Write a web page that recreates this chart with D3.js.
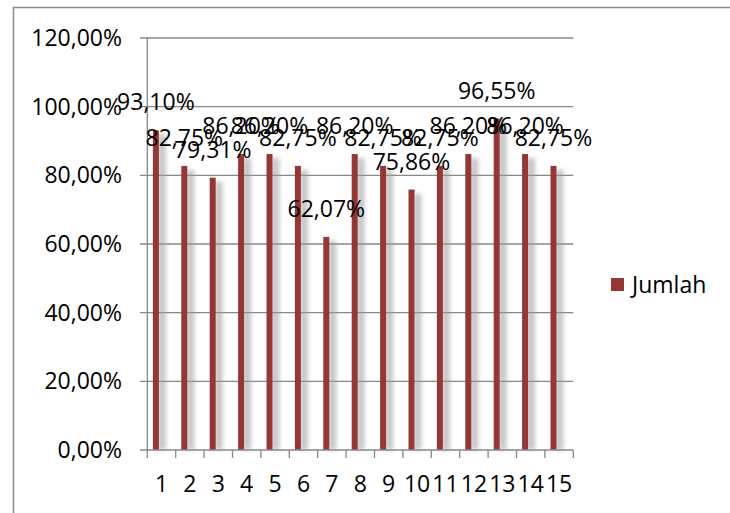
<!DOCTYPE html>
<html><head><meta charset="utf-8">
<script src="https://cdn.jsdelivr.net/npm/d3@7"></script>
<style>
html,body{margin:0;padding:0;background:#fff;}
svg{display:block;font-family:"Open Sans",sans-serif;}
</style></head>
<body><svg id="c" width="730" height="513"></svg>
<script>
const categories = ["1","2","3","4","5","6","7","8","9","10","11","12","13","14","15"];
const values = [93.10, 82.75, 79.31, 86.20, 86.20, 82.75, 62.07, 86.20, 82.75, 75.86, 82.75, 86.20, 96.55, 86.20, 82.75];
const yTicks = [0, 20, 40, 60, 80, 100, 120];
const seriesName = "Jumlah";

const svg = d3.select("#c");
const fmt = v => v.toFixed(2).replace(".", ",") + "%";
const x = d3.scaleBand().domain(categories).range([147.3, 573.3]).padding(0);
const y = d3.scaleLinear().domain([0, 120]).range([450, 38]);
const barColor = "#953735";
const gridColor = "#888888";

// outer border
svg.append("path").attr("d", "M13.5,513 V7.5 H730").attr("fill","none").attr("stroke","#8c8c8c").attr("stroke-width",1.5);

const defs = svg.append("defs");
const f = defs.append("filter").attr("id","sh").attr("x","-100%").attr("y","-10%").attr("width","300%").attr("height","120%");
f.append("feGaussianBlur").attr("stdDeviation", 2.2);

// gridlines
svg.append("g").selectAll("line").data(yTicks.filter(d => d > 0)).join("line")
  .attr("x1", 140).attr("x2", 573.3).attr("y1", d => y(d)).attr("y2", d => y(d))
  .attr("stroke", gridColor).attr("stroke-width", 1.3);

// y labels
svg.append("g").selectAll("text").data(yTicks).join("text")
  .attr("x", 122).attr("y", d => y(d) + 8).attr("text-anchor","end")
  .attr("font-size", 23).attr("fill","#000").text(d => fmt(d));

const bw = 6;
const barX = d => x(d) + 5.6;

// shadows
svg.append("g").selectAll("rect").data(categories).join("rect")
  .attr("x", (d) => barX(d) + 5).attr("width", 8)
  .attr("y", (d,i) => y(values[i]) + 4).attr("height", (d,i) => y(0) - y(values[i]) - 4)
  .attr("fill", "#9a9a9a").attr("opacity", 0.55).attr("filter","url(#sh)");

// bars
svg.append("g").selectAll("rect").data(categories).join("rect")
  .attr("x", d => barX(d)).attr("width", bw)
  .attr("y", (d,i) => y(values[i])).attr("height", (d,i) => y(0) - y(values[i]))
  .attr("fill", barColor);

// axes lines
svg.append("line").attr("x1",147.3).attr("x2",147.3).attr("y1",y(120)).attr("y2",y(0)+0.5).attr("stroke",gridColor).attr("stroke-width",1.3);
svg.append("line").attr("x1",140).attr("x2",573.3).attr("y1",y(0)).attr("y2",y(0)).attr("stroke",gridColor).attr("stroke-width",1.3);
const bounds = categories.map(d => x(d)).concat([x.range()[1]]);
svg.append("g").selectAll("line").data(bounds).join("line")
  .attr("x1", d => d).attr("x2", d => d).attr("y1", y(0)).attr("y2", y(0) + 8)
  .attr("stroke", gridColor).attr("stroke-width", 1.3);

// category labels
svg.append("g").selectAll("text").data(categories).join("text")
  .attr("x", d => x(d) + x.bandwidth()/2).attr("y", 492).attr("text-anchor","middle")
  .attr("font-size", 23).attr("fill","#000").text(d => d);

// data labels
svg.append("g").selectAll("text").data(categories).join("text")
  .attr("x", d => barX(d) + bw/2).attr("y", (d,i) => y(values[i]) - 20).attr("text-anchor","middle")
  .attr("font-size", 23).attr("fill","#000").text((d,i) => fmt(values[i]));

// legend
svg.append("rect").attr("x", 611).attr("y", 278).attr("width", 13).attr("height", 13).attr("fill", barColor);
svg.append("text").attr("x", 632).attr("y", 293).attr("font-size", 23).attr("fill","#000").text(seriesName);
</script></body></html>
